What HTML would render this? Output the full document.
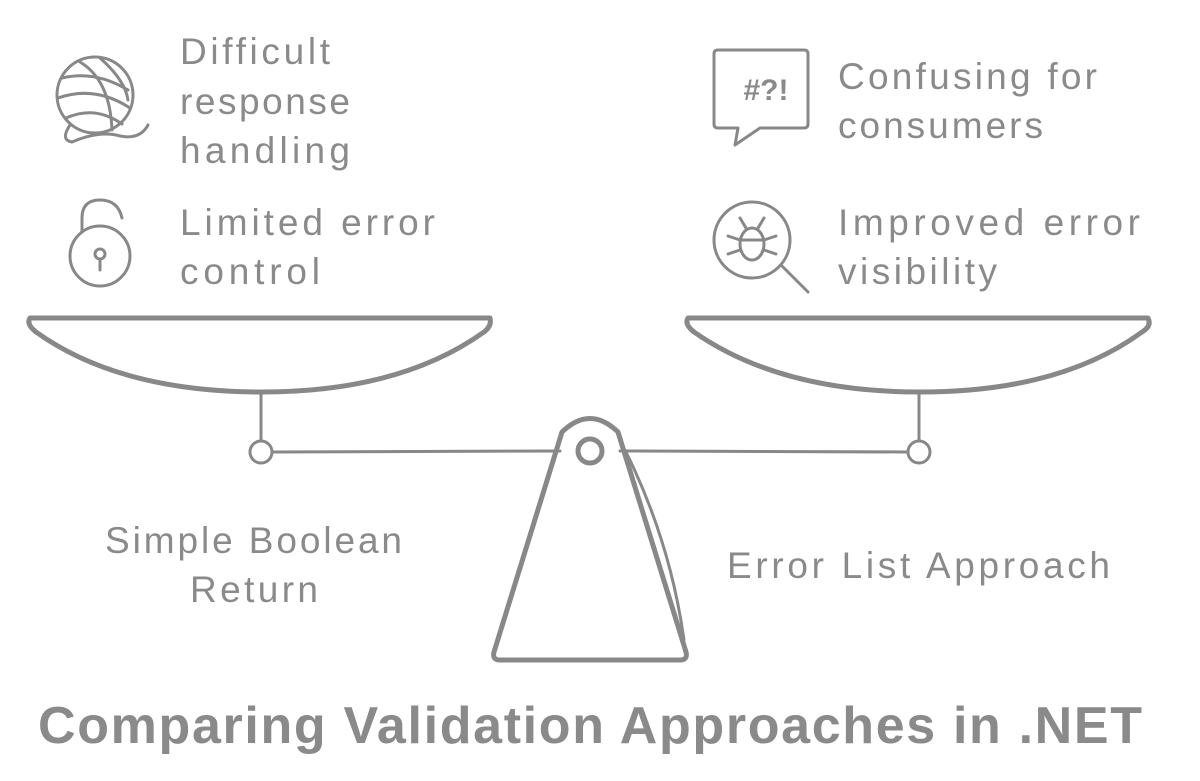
<!DOCTYPE html>
<html><head><meta charset="utf-8"><style>
html,body{margin:0;padding:0;background:#fff;}
svg{display:block;}
text{font-family:"Liberation Sans",sans-serif;fill:#8a8a8a;}
</style></head><body>
<svg width="1200" height="781" viewBox="0 0 1200 781" xmlns="http://www.w3.org/2000/svg">
<g fill="none" stroke="#888" stroke-width="5" stroke-linecap="round" stroke-linejoin="round">
<path d="M30 318 L490 318 Q492 326 484 332 Q400 392 262 392 Q120 392 36 332 Q26 324 30 318 Z"/>
<path d="M688 318 L1148 318 Q1152 326 1142 332 Q1060 392 920 392 Q780 392 694 332 Q684 324 688 318 Z"/>
<line x1="261" y1="392" x2="261" y2="440" stroke-width="3"/>
<line x1="919" y1="392" x2="919" y2="440" stroke-width="3"/>
<circle cx="261" cy="452" r="11" stroke-width="3"/>
<circle cx="919" cy="452" r="11" stroke-width="3"/>
<line x1="272" y1="452" x2="560" y2="451" stroke-width="3"/>
<line x1="620" y1="451" x2="908" y2="452" stroke-width="3"/>
<path d="M562 432 Q590 405 618 432 L686 652 Q688 660 680 660 L500 660 Q492 660 494 652 Z"/>
<path d="M625 450 Q670 540 684 640" stroke-width="3"/>
<circle cx="590" cy="451" r="12"/>
<circle cx="95" cy="95" r="38" stroke-width="3"/>
<path d="M62 78 Q95 70 128 90 M58 98 Q95 85 130 108 M66 118 Q95 105 122 124 M80 62 Q110 80 112 130 M100 58 Q125 80 128 100" stroke-width="3"/>
<path d="M70 125 Q60 140 72 142 Q100 130 120 136 Q140 140 148 125" stroke-width="3"/>
<path d="M82 232 L82 218 Q82 200 100 200 Q118 200 122 218" stroke-width="3"/>
<circle cx="100" cy="256" r="30" stroke-width="3"/>
<circle cx="100" cy="254" r="5" stroke-width="3"/>
<line x1="100" y1="259" x2="100" y2="270" stroke-width="3"/>
<path d="M718 50 L804 50 Q808 50 808 54 L808 124 Q808 128 804 128 L760 128 L735 145 L738 128 L718 128 Q714 128 714 124 L714 54 Q714 50 718 50 Z" stroke-width="3"/>
<circle cx="752" cy="240" r="38" stroke-width="3"/>
<line x1="782" y1="266" x2="808" y2="292" stroke-width="3"/>
<ellipse cx="752" cy="244" rx="12" ry="16" stroke-width="3"/>
<path d="M740 240 L728 236 M740 250 L728 254 M764 240 L776 236 M764 250 L776 254 M746 228 L740 218 M758 228 L764 218 M742 240 L762 240" stroke-width="3"/>
</g>
<text x="766" y="100" font-size="30" font-weight="bold" text-anchor="middle">#?!</text>
<g font-size="37" lengthAdjust="spacing">
<text x="180" y="64" textLength="150">Difficult</text>
<text x="180" y="114" textLength="170">response</text>
<text x="180" y="163" textLength="170">handling</text>
<text x="180" y="235" textLength="255">Limited error</text>
<text x="180" y="284" textLength="140">control</text>
<text x="838" y="89" textLength="259">Confusing for</text>
<text x="838" y="138" textLength="205">consumers</text>
<text x="838" y="235" textLength="302">Improved error</text>
<text x="838" y="284" textLength="159">visibility</text>
<text x="105" y="553" textLength="297">Simple Boolean</text>
<text x="190" y="602" textLength="128">Return</text>
<text x="727" y="578" textLength="383">Error List Approach</text>
</g>
<text x="38" y="743" font-size="52" font-weight="bold" textLength="1104" lengthAdjust="spacing">Comparing Validation Approaches in .NET</text>
</svg>
</body></html>
